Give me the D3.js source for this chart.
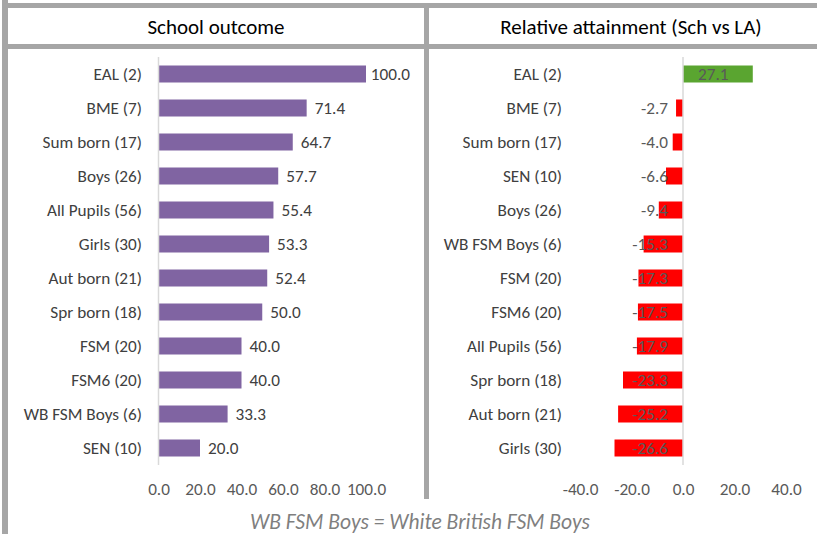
<!DOCTYPE html>
<html>
<head>
<meta charset="utf-8">
<script src="https://cdn.jsdelivr.net/npm/d3@7"></script>
<style>
  html, body { margin: 0; padding: 0; background: #fff; }
  svg { display: block; }
</style>
</head>
<body>
<div id="chart"></div>
<script>
// ---------------------------------------------------------
// DATA
// ---------------------------------------------------------
const outcomeGroups = ["EAL (2)", "BME (7)", "Sum born (17)", "Boys (26)", "All Pupils (56)", "Girls (30)",
  "Aut born (21)", "Spr born (18)", "FSM (20)", "FSM6 (20)", "WB FSM Boys (6)", "SEN (10)"];
const outcomeValues = [100.0, 71.4, 64.7, 57.7, 55.4, 53.3, 52.4, 50.0, 40.0, 40.0, 33.3, 20.0];
const outcomeTicks = [0, 20, 40, 60, 80, 100];

const relGroups = ["EAL (2)", "BME (7)", "Sum born (17)", "SEN (10)", "Boys (26)", "WB FSM Boys (6)",
  "FSM (20)", "FSM6 (20)", "All Pupils (56)", "Spr born (18)", "Aut born (21)", "Girls (30)"];
const relValues = [27.1, -2.7, -4.0, -6.6, -9.4, -15.3, -17.3, -17.5, -17.9, -23.3, -25.2, -26.6];
const relTicks = [-40, -20, 0, 20, 40];

const titles = ["School outcome", "Relative attainment (Sch vs LA)"];
const footnote = "WB FSM Boys = White British FSM Boys";

// ---------------------------------------------------------
// SETUP
// ---------------------------------------------------------
const width = 817, height = 534;
const font = "Carlito, Calibri, Lato, sans-serif";
const frame = "#a6a6a6";
const bodySize = "17.2px";

const svg = d3.select("#chart").append("svg")
    .attr("width", width)
    .attr("height", height);

// frame lines
svg.append("rect").attr("x", 2).attr("y", 0).attr("width", 6).attr("height", height).attr("fill", frame);
svg.append("rect").attr("x", 8).attr("y", 3).attr("width", width - 8).attr("height", 5).attr("fill", frame);
svg.append("rect").attr("x", 8).attr("y", 44).attr("width", width - 8).attr("height", 5).attr("fill", frame);
svg.append("rect").attr("x", 424).attr("y", 3).attr("width", 5).attr("height", 496).attr("fill", frame);

// titles
svg.selectAll("text.title")
  .data(titles)
  .enter().append("text")
    .attr("class", "title")
    .attr("x", (d, i) => i === 0 ? 216 : 631)
    .attr("y", 27)
    .attr("text-anchor", "middle")
    .attr("dominant-baseline", "central")
    .style("font-family", font)
    .style("font-size", "21px")
    .style("fill", "#000")
    .text(d => d);

// ---------------------------------------------------------
// PANEL DRAWER
// ---------------------------------------------------------
const plotTop = 57, plotBottom = 465;
const fmt = d => d.toFixed(1);   // keeps the plain hyphen for negatives

function drawPanel(opts) {
  const g = svg.append("g");

  const y = d3.scaleBand()
      .domain(opts.groups)
      .range([plotTop, plotBottom])
      .paddingInner(0.5)
      .paddingOuter(0.25);

  const x = d3.scaleLinear()
      .domain(opts.domain)
      .range(opts.range);

  const zero = x(0);

  g.selectAll("rect.bar")
    .data(opts.values)
    .enter().append("rect")
      .attr("class", "bar")
      .attr("x", d => Math.min(x(d), zero))
      .attr("y", (d, i) => y(opts.groups[i]))
      .attr("width", d => Math.abs(x(d) - zero))
      .attr("height", y.bandwidth())
      .attr("fill", opts.color);

  // value axis baseline (vertical, at zero)
  g.append("line")
    .attr("x1", zero).attr("x2", zero)
    .attr("y1", plotTop).attr("y2", plotBottom)
    .attr("stroke", "#d9d9d9")
    .attr("stroke-width", 1.5);

  // category labels
  g.selectAll("text.cat")
    .data(opts.groups)
    .enter().append("text")
      .attr("class", "cat")
      .attr("x", opts.catX)
      .attr("y", d => y(d) + y.bandwidth() / 2)
      .attr("text-anchor", "end")
      .attr("dominant-baseline", "central")
      .style("font-family", font)
      .style("font-size", bodySize)
      .style("fill", "#404040")
      .text(d => d);

  // value labels
  g.selectAll("text.val")
    .data(opts.values)
    .enter().append("text")
      .attr("class", "val")
      .attr("y", (d, i) => y(opts.groups[i]) + y.bandwidth() / 2)
      .attr("dominant-baseline", "central")
      .style("font-family", font)
      .style("font-size", bodySize)
      .style("fill", opts.labelColor)
      .text(fmt)
      .each(function (d) {
        const w = this.getComputedTextLength();
        let lx = opts.labelPos(d, x, zero);
        if (d >= 0 && lx + w > opts.labelMax) lx = opts.labelMax - w;
        d3.select(this).attr("x", d >= 0 ? lx : lx - w);
      });

  // tick labels
  const axis = d3.axisBottom(x)
      .tickValues(opts.ticks)
      .tickFormat(fmt)
      .tickSize(0)
      .tickPadding(0);

  const ga = g.append("g")
      .attr("transform", `translate(0,${483})`)
      .call(axis);
  ga.select(".domain").remove();
  ga.selectAll("text")
      .style("font-family", font)
      .style("font-size", bodySize)
      .style("fill", "#595959");
}

drawPanel({
  groups: outcomeGroups,
  values: outcomeValues,
  ticks: outcomeTicks,
  domain: [0, 100],
  range: [158.5, 366],
  color: "#8064a2",
  catX: 142,
  labelColor: "#404040",
  labelMax: 410,
  labelPos: (d, x) => x(d) + 8
});

drawPanel({
  groups: relGroups,
  values: relValues,
  ticks: relTicks,
  domain: [-40, 40],
  range: [580, 786],
  color: d => d >= 0 ? "#5aa530" : "#ff0000",
  catX: 562,
  labelColor: "#595959",
  labelMax: 800,
  labelPos: (d, x, zero) => d >= 0 ? zero + 15 : zero - 15
});

// footnote
svg.append("text")
  .attr("x", 420)
  .attr("y", 522)
  .attr("text-anchor", "middle")
  .attr("dominant-baseline", "central")
  .style("font-family", font)
  .style("font-size", "21.5px")
  .style("font-style", "italic")
  .style("fill", "#7f7f7f")
  .text(footnote);
</script>
</body>
</html>
